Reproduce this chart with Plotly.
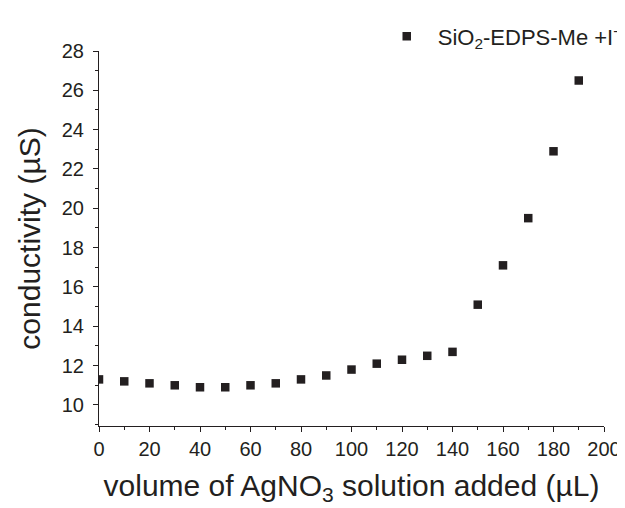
import plotly.graph_objects as go

volume_uL = [0, 10, 20, 30, 40, 50, 60, 70, 80, 90, 100, 110, 120, 130, 140, 150, 160, 170, 180, 190]
conductivity_uS = [11.3, 11.2, 11.1, 11.0, 10.9, 10.9, 11.0, 11.1, 11.3, 11.5, 11.8, 12.1, 12.3, 12.5, 12.7,
                   15.1, 17.1, 19.5, 22.9, 26.5]
series_name = "SiO<sub>2</sub>-EDPS-Me +I<sup>-</sup>"
x_title = "volume of AgNO<sub>3</sub> solution added (µL)"
y_title = "conductivity (µS)"

FONT = "Liberation Sans, Arial, Helvetica, sans-serif"
INK = "#231f20"

fig = go.Figure()
fig.add_trace(go.Scatter(
    x=volume_uL, y=conductivity_uS, mode="markers", name=series_name,
    marker=dict(symbol="square", size=8.5, color=INK, line=dict(width=0)),
    cliponaxis=True,
))

axis_common = dict(
    showline=True, linecolor=INK, linewidth=1.2, mirror=False,
    ticks="outside", ticklen=5, tickwidth=1.2, tickcolor=INK,
    showgrid=False, zeroline=False, automargin=False,
    tickfont=dict(family=FONT, size=20, color=INK),
)

fig.update_layout(
    width=625, height=508,
    margin=dict(l=91, r=29, t=43, b=90, autoexpand=False),
    paper_bgcolor="white", plot_bgcolor="white",
    font=dict(family=FONT, color=INK),
    showlegend=True,
    legend=dict(x=0.548, y=1.095, xanchor="left", yanchor="top",
                font=dict(family=FONT, size=22, color=INK),
                bgcolor="rgba(0,0,0,0)", itemwidth=52, borderwidth=0),
    xaxis=dict(range=[0, 200], tick0=0, dtick=20,
               minor=dict(dtick=10, ticks="outside", ticklen=3, tickcolor=INK, tickwidth=1.2),
               title=dict(text=x_title, font=dict(family=FONT, size=30, color=INK), standoff=15),
               **axis_common),
    yaxis=dict(range=[8.93, 28], tick0=10, dtick=2, ticklabelstandoff=5,
               minor=dict(dtick=1, ticks="outside", ticklen=3, tickcolor=INK, tickwidth=1.2),
               title=dict(text=y_title, font=dict(family=FONT, size=30, color=INK), standoff=12),
               **axis_common),
)

fig.write_html("out.html")
